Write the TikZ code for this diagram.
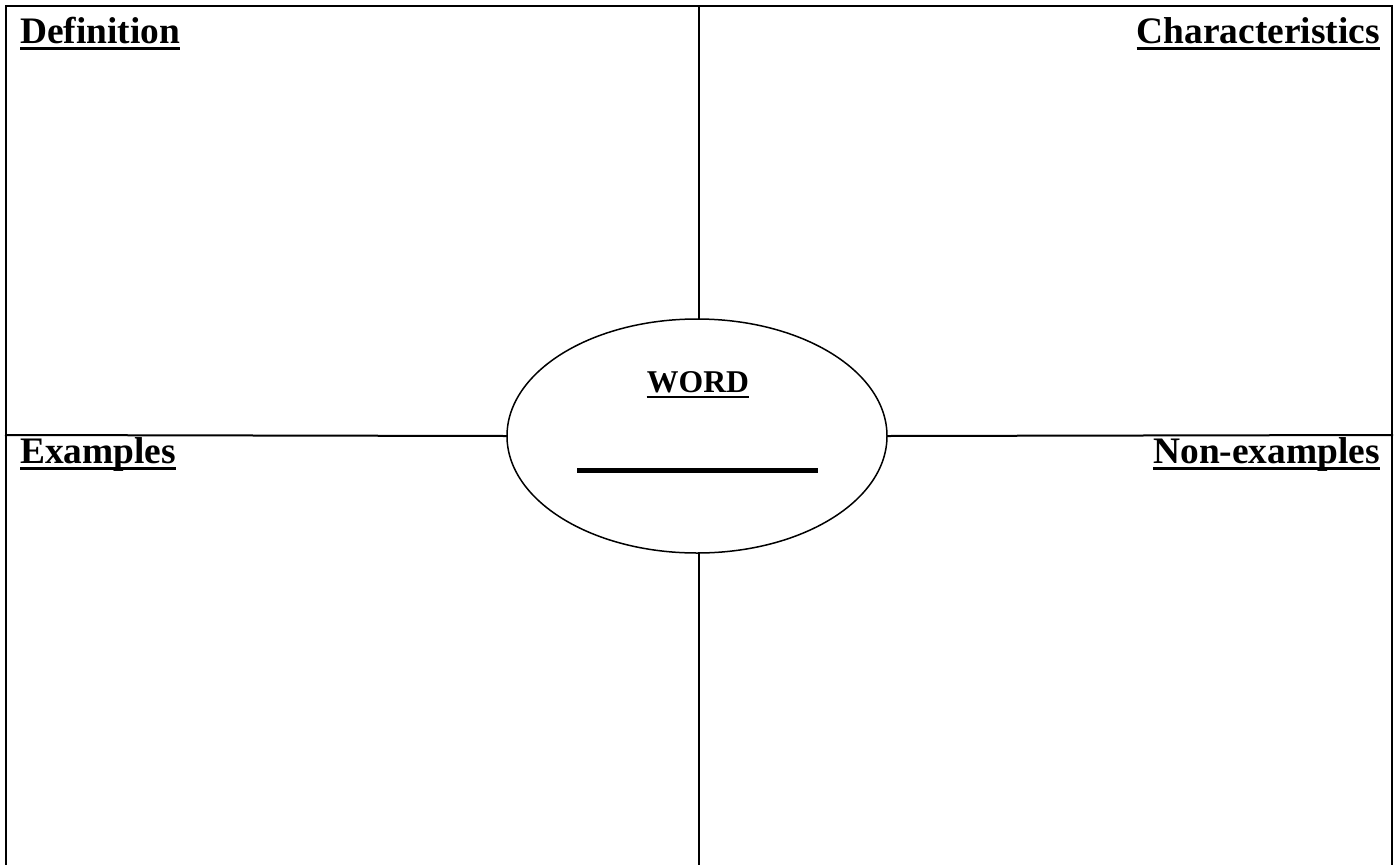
\documentclass[tikz,border=0pt]{standalone}
\usepackage{fontspec}
\setmainfont{Liberation Serif}
\usetikzlibrary{shapes.geometric,calc}
\begin{document}
\begin{tikzpicture}[x=1pt,y=-1pt,
  frame/.style={line width=2pt,line cap=rect},
  head/.style={inner sep=0pt,font=\fontsize{37.4}{40}\selectfont\bfseries},
  wordtxt/.style={inner sep=0pt,font=\fontsize{31.7}{34}\selectfont\bfseries},
  uline/.style={line width=3.5pt},
  oval/.style={ellipse,draw,line width=1.5pt,minimum width=380pt,minimum height=234pt,inner sep=0pt}]
\useasboundingbox (0,0) rectangle (1398,865);
% frame corners
\coordinate (tl) at (6,6);
\coordinate (tr) at (1392,6);
\coordinate (bl) at (6,870);
\coordinate (br) at (1392,870);
\coordinate (tm) at (699,6);
\coordinate (bm) at (699,870);
\coordinate (ml) at (6,435);
\coordinate (mr) at (1392,435);
\node[oval] (oval) at (697,436) {};
\draw[frame] (bl) -- (tl) -- (tr) -- (br);
\draw[frame] (tm) -- (tm |- oval.north);
\draw[frame] (bm) -- (bm |- oval.south);
\draw[frame] (ml) -- (oval.west);
\draw[frame] (mr) -- (oval.east);
% headings
\node[head,anchor=base west] (def) at (20,43) {Definition};
\node[head,anchor=base east] (chr) at (1380,43) {Characteristics};
\node[head,anchor=base west] (exa) at (20,463) {Examples};
\node[head,anchor=base east] (non) at (1380,463) {Non-examples};
\foreach \n in {def,chr,exa,non}
  \draw[uline] ([yshift=-5.5pt]\n.base west) -- ([yshift=-5.5pt]\n.base east);
\node[wordtxt,anchor=base] (word) at (698,392) {WORD};
\draw[line width=2.5pt] ([yshift=-5pt]word.base west) -- ([yshift=-5pt]word.base east);
\coordinate (blankL) at (577,470);
\coordinate (blankR) at (818,470);
\draw[line width=5pt] (blankL) -- (blankR);
\end{tikzpicture}
\end{document}
